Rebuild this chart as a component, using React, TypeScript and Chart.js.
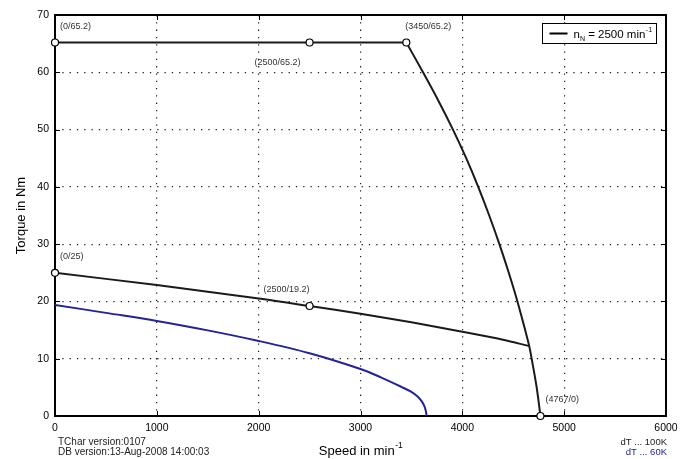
import React, { useEffect, useRef } from 'react';
import { Chart, registerables } from 'chart.js';

Chart.register(...registerables);

// ---- data ----
const xTickValues = [0, 1000, 2000, 3000, 4000, 5000, 6000];
const yTickValues = [0, 10, 20, 30, 40, 50, 60, 70];

// Max torque (flat part)
const flatSpeed = [0, 2500, 3450];
const flatTorque = [65.2, 65.2, 65.2];

// Max torque (field weakening part)
const dropSpeed = [3450, 3614, 3766, 3908, 4038, 4156, 4264, 4364, 4456, 4541, 4617, 4657, 4681, 4730, 4767];
const dropTorque = [65.2, 60, 55, 50, 45, 40, 35, 30, 25, 20, 15, 12.2, 10, 5, 0];

// S1 curve dT 100K
const s1Speed = [0, 1000, 2000, 2500, 3000, 3500, 4000, 4400, 4657];
const s1Torque = [25, 22.85, 20.5, 19.2, 17.85, 16.35, 14.7, 13.3, 12.2];

// S1 curve dT 60K
const s60Speed = [0, 500, 1000, 1500, 2000, 2500, 3000, 3200, 3400, 3500, 3560, 3600, 3625, 3640, 3650];
const s60Torque = [19.4, 18.0, 16.6, 14.95, 13.1, 10.95, 8.2, 6.75, 5.1, 4.2, 3.4, 2.6, 1.8, 1.0, 0];

// Marked points
const markSpeed = [0, 2500, 3450, 0, 2500, 4767];
const markTorque = [65.2, 65.2, 65.2, 25, 19.2, 0];
const markLabels = ['(0/65.2)', '(2500/65.2)', '(3450/65.2)', '(0/25)', '(2500/19.2)', '(4767/0)'];

const legendLabel = { base: 'n', sub: 'N', rest: ' = 2500 min', sup: '-1' };
const xTitle = { base: 'Speed in min', sup: '-1' };
const yTitle = 'Torque in Nm';
const footLeft = ['TChar version:0107', 'DB version:13-Aug-2008 14:00:03'];
const footRight = ['dT ... 100K', 'dT ... 60K'];

const FONT = '"Liberation Sans", Arial, Helvetica, sans-serif';
const BLUE = '#22229a';
const BLACK = '#1a1a1a';

const toPts = (xs: number[], ys: number[]) => xs.map((x, i) => ({ x, y: ys[i] }));

// label placement: [dx, dy, align]
const labelPlace: [number, number, CanvasTextAlign][] = [
  [5, -16, 'left'],
  [-9, 20, 'right'],
  [-1, -16, 'left'],
  [5, -16, 'left'],
  [0, -16, 'right'],
  [5, -16, 'left'],
];

const framePlugin = {
  id: 'frameTicks',
  beforeDatasetsDraw(chart: any) {
    const { ctx, chartArea: a, scales } = chart;
    ctx.save();
    ctx.strokeStyle = '#000';
    ctx.lineWidth = 1;
    ctx.beginPath();
    for (const v of xTickValues) {
      const px = Math.round(scales.x.getPixelForValue(v)) + 0.5;
      ctx.moveTo(px, a.bottom);
      ctx.lineTo(px, a.bottom - 5);
      ctx.moveTo(px, a.top);
      ctx.lineTo(px, a.top + 5);
    }
    for (const v of yTickValues) {
      const py = Math.round(scales.y.getPixelForValue(v)) + 0.5;
      ctx.moveTo(a.left, py);
      ctx.lineTo(a.left + 5, py);
      ctx.moveTo(a.right, py);
      ctx.lineTo(a.right - 5, py);
    }
    ctx.stroke();
    ctx.lineWidth = 2;
    ctx.strokeRect(a.left, a.top, a.right - a.left, a.bottom - a.top);
    ctx.restore();
  },
  afterDraw(chart: any) {
    const { ctx, chartArea: a, scales } = chart;
    ctx.save();
    // point labels
    ctx.font = `9px ${FONT}`;
    ctx.fillStyle = '#333';
    ctx.textBaseline = 'middle';
    markLabels.forEach((t, i) => {
      const px = scales.x.getPixelForValue(markSpeed[i]);
      const py = scales.y.getPixelForValue(markTorque[i]);
      const [dx, dy, al] = labelPlace[i];
      ctx.textAlign = al;
      ctx.fillText(t, px + dx, py + dy);
    });

    // legend
    const bx = a.right - 123.5;
    const by = a.top + 8.5;
    const bw = 114;
    const bh = 20;
    ctx.fillStyle = '#fff';
    ctx.fillRect(bx, by, bw, bh);
    ctx.strokeStyle = '#000';
    ctx.lineWidth = 1;
    ctx.strokeRect(bx, by, bw, bh);
    const cy = by + bh / 2;
    ctx.lineWidth = 2;
    ctx.beginPath();
    ctx.moveTo(bx + 7, cy);
    ctx.lineTo(bx + 25, cy);
    ctx.stroke();
    ctx.fillStyle = '#000';
    ctx.textAlign = 'left';
    ctx.textBaseline = 'alphabetic';
    let x = bx + 31;
    ctx.font = `11.5px ${FONT}`;
    ctx.fillText(legendLabel.base, x, cy + 4);
    x += ctx.measureText(legendLabel.base).width;
    ctx.font = `7px ${FONT}`;
    ctx.fillText(legendLabel.sub, x, cy + 7);
    x += ctx.measureText(legendLabel.sub).width;
    ctx.font = `11.5px ${FONT}`;
    ctx.fillText(legendLabel.rest, x, cy + 4);
    x += ctx.measureText(legendLabel.rest).width + 0.5;
    ctx.font = `7px ${FONT}`;
    ctx.fillText(legendLabel.sup, x, cy - 1.5);

    // x title
    ctx.font = `13px ${FONT}`;
    const w1 = ctx.measureText(xTitle.base).width;
    ctx.font = `8.5px ${FONT}`;
    const w2 = ctx.measureText(xTitle.sup).width;
    const tx = (a.left + a.right) / 2 - (w1 + w2) / 2;
    ctx.font = `13px ${FONT}`;
    ctx.fillText(xTitle.base, tx, 455);
    ctx.font = `8.5px ${FONT}`;
    ctx.fillText(xTitle.sup, tx + w1 + 0.5, 448);

    // y title
    ctx.save();
    ctx.translate(25, (a.top + a.bottom) / 2);
    ctx.rotate(-Math.PI / 2);
    ctx.font = `13px ${FONT}`;
    ctx.textAlign = 'center';
    ctx.fillText(yTitle, 0, 0);
    ctx.restore();

    // footers
    ctx.font = `10px ${FONT}`;
    ctx.fillStyle = '#222';
    ctx.textAlign = 'left';
    ctx.fillText(footLeft[0], a.left + 3, 444.5);
    ctx.fillText(footLeft[1], a.left + 3, 455);
    ctx.font = `9.5px ${FONT}`;
    ctx.textAlign = 'right';
    ctx.fillText(footRight[0], a.right + 1, 445);
    ctx.fillStyle = BLUE;
    ctx.fillText(footRight[1], a.right + 1, 455);
    ctx.restore();
  },
};

const lineDs = (xs: number[], ys: number[], color: string, tension: number) => ({
  data: toPts(xs, ys),
  showLine: true,
  borderColor: color,
  borderWidth: 2,
  pointRadius: 0,
  tension,
  order: 1,
});

export default function App() {
  const ref = useRef<HTMLCanvasElement | null>(null);

  useEffect(() => {
    document.body.style.margin = '0';
    const canvas = ref.current;
    if (!canvas) return;
    const tickFont = { family: FONT, size: 10.5 };
    const chart = new Chart(canvas, {
      type: 'scatter',
      data: {
        datasets: [
          {
            data: toPts(markSpeed, markTorque),
            showLine: false,
            pointRadius: 3.5,
            pointBackgroundColor: '#fff',
            pointBorderColor: '#000',
            pointBorderWidth: 1.2,
            clip: false,
            order: 0,
          } as any,
          lineDs(flatSpeed, flatTorque, BLACK, 0) as any,
          lineDs(dropSpeed, dropTorque, BLACK, 0.35) as any,
          lineDs(s1Speed, s1Torque, BLACK, 0.35) as any,
          lineDs(s60Speed, s60Torque, BLUE, 0.35) as any,
        ],
      },
      options: {
        animation: false,
        responsive: false,
        events: [],
        layout: { padding: { top: 15, right: 28, left: 0, bottom: 0 } },
        plugins: { legend: { display: false }, tooltip: { enabled: false } },
        scales: {
          x: {
            type: 'linear',
            min: 0,
            max: 6000,
            afterBuildTicks: (s: any) => {
              s.ticks = xTickValues.map((v) => ({ value: v }));
            },
            afterFit: (s: any) => {
              s.height = 43;
            },
            ticks: {
              color: '#000',
              padding: 6,
              font: tickFont,
              maxRotation: 0,
              autoSkip: false,
              callback: (v: any) => String(v),
            },
            grid: { color: '#222', lineWidth: 1.2, drawTicks: false },
            border: { display: false, dash: [1.3, 6] },
          },
          y: {
            type: 'linear',
            min: 0,
            max: 70,
            afterBuildTicks: (s: any) => {
              s.ticks = yTickValues.map((v) => ({ value: v }));
            },
            afterFit: (s: any) => {
              s.width = 55;
            },
            ticks: { color: '#000', padding: 6, font: tickFont, autoSkip: false, callback: (v: any) => String(v) },
            grid: { color: '#222', lineWidth: 1.2, drawTicks: false },
            border: { display: false, dash: [1.3, 6] },
          },
        },
      },
      plugins: [framePlugin],
    });
    return () => chart.destroy();
  }, []);

  return (
    <div style={{ position: 'absolute', left: 0, top: 0, width: 694, height: 459, background: '#fff' }}>
      <canvas ref={ref} width={694} height={459} style={{ display: 'block', width: 694, height: 459 }} />
    </div>
  );
}
